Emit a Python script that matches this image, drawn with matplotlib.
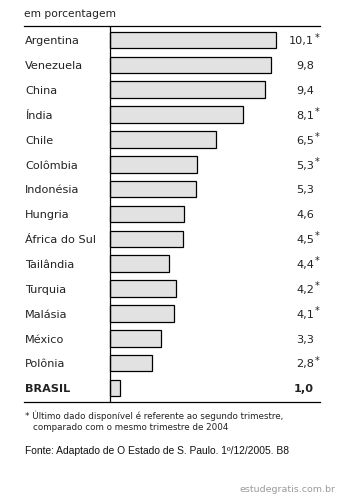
import matplotlib
matplotlib.use('agg')
import matplotlib.pyplot as plt

# data
countries = ["Argentina", "Venezuela", "China", "Índia", "Chile", "Colômbia",
             "Indonésia", "Hungria", "África do Sul", "Tailândia", "Turquia",
             "Malásia", "México", "Polônia", "BRASIL"]
values = ["10,1", "9,8", "9,4", "8,1", "6,5", "5,3", "5,3", "4,6", "4,5",
          "4,4", "4,2", "4,1", "3,3", "2,8", "1,0"]
starred = [True, False, False, True, True, True, False, False, True,
           True, True, True, False, True, False]
# bar lengths as drawn in the source (not exactly proportional to the labels)
bar_lengths = [10.1, 9.8, 9.4, 8.1, 6.45, 5.25, 5.2, 4.5, 4.4,
               3.55, 4.0, 3.9, 3.1, 2.55, 0.6]

fig = plt.figure(figsize=(3.42, 5.0), dpi=100)
fig.patch.set_facecolor("white")
ax = fig.add_axes([24/342, 1 - 402/500, 296/342, 376/500])

ypos = list(range(len(countries)))
ax.barh(ypos, bar_lengths, height=0.67, color="#e2e2e2", edgecolor="black",
        linewidth=0.9, zorder=2)
ax.axvline(0, color="black", lw=0.9, zorder=3)

ax.set_xlim(-5.27, 12.77)
ax.set_ylim(14.563, -0.563)
ax.set_xticks([])
ax.set_yticks([])
for s in ["left", "right"]:
    ax.spines[s].set_visible(False)
for s in ["top", "bottom"]:
    ax.spines[s].set_linewidth(0.9)

tr = ax.get_yaxis_transform()
for i, (c, v, st) in enumerate(zip(countries, values, starred)):
    bold = "bold" if c == "BRASIL" else "normal"
    ax.text(0.004, i + 0.05, c, transform=tr, ha="left", va="center", fontsize=8.1,
            color="#222222", fontweight=bold)
    ax.text(0.98, i + 0.05, v, transform=tr, ha="right", va="center", fontsize=8.1,
            color="#222222", fontweight=bold)
    if st:
        ax.text(0.982, i - 0.1, "*", transform=tr, ha="left", va="center",
                fontsize=7, color="#222222")

fig.text(24/342, 1 - 14/500, "em porcentagem", ha="left", va="center",
         fontsize=7.7, color="#222222")
fig.text(25/342, 1 - 416/500, "* Último dado disponível é referente ao segundo trimestre,",
         ha="left", va="center", fontsize=6.3, color="#222222",
         family="Liberation Sans Narrow")
fig.text(33/342, 1 - 427/500, "comparado com o mesmo trimestre de 2004",
         ha="left", va="center", fontsize=6.3, color="#222222",
         family="Liberation Sans Narrow")
fig.text(25/342, 1 - 451/500, "Fonte: Adaptado de O Estado de S. Paulo. 1º/12/2005. B8",
         ha="left", va="center", fontsize=7.4, color="#111111",
         family="Liberation Sans")
fig.text(335/342, 1 - 490/500, "estudegratis.com.br", ha="right", va="center",
         fontsize=6.8, color="#9a9a9a")

plt.savefig("out.png", dpi=100, facecolor="white")
